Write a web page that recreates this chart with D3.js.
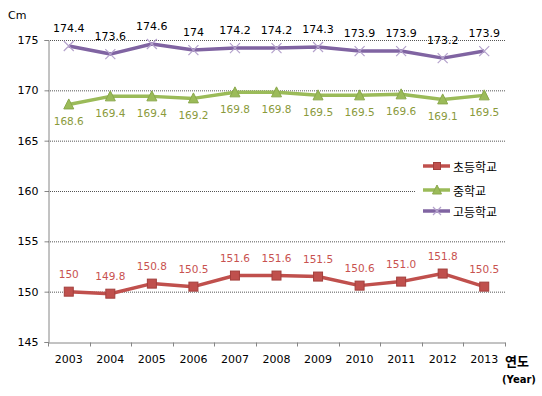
<!DOCTYPE html>
<html lang="ko">
<head>
<meta charset="utf-8">
<title>학생 평균 신장</title>
<script src="https://d3js.org/d3.v7.min.js"></script>
<style>
  body { margin: 0; background: #fff; }
  text { font-family: "DejaVu Sans", Verdana, sans-serif; }
</style>
</head>
<body>
<script>
// data
var years = ["2003","2004","2005","2006","2007","2008","2009","2010","2011","2012","2013"];
var elementary = [150, 149.8, 150.8, 150.5, 151.6, 151.6, 151.5, 150.6, 151.0, 151.8, 150.5];
var middle = [168.6, 169.4, 169.4, 169.2, 169.8, 169.8, 169.5, 169.5, 169.6, 169.1, 169.5];
var high = [174.4, 173.6, 174.6, 174, 174.2, 174.2, 174.3, 173.9, 173.9, 173.2, 173.9];
var elementaryLabels = ["150","149.8","150.8","150.5","151.6","151.6","151.5","150.6","151.0","151.8","150.5"];
var middleLabels = ["168.6","169.4","169.4","169.2","169.8","169.8","169.5","169.5","169.6","169.1","169.5"];
var highLabels = ["174.4","173.6","174.6","174","174.2","174.2","174.3","173.9","173.9","173.2","173.9"];
var yTicks = [145, 150, 155, 160, 165, 170, 175];

var width = 542, height = 396;
var svg = d3.select("body").append("svg")
    .attr("width", width)
    .attr("height", height);

var x = d3.scaleBand().domain(years).range([48, 505]);
var y = d3.scaleLinear().domain([145, 175]).range([342, 40]);
var cx = function(d, i) { return x(years[i]) + x.bandwidth() / 2; };

// gridlines
svg.append("g").selectAll("line")
    .data(yTicks.slice(1))
    .enter().append("line")
    .attr("x1", 48).attr("x2", 505)
    .attr("y1", d => y(d) + 0.5).attr("y2", d => y(d) + 0.5)
    .attr("stroke", "#555")
    .attr("stroke-dasharray", "1,1");

// y axis
var yAxis = svg.append("g")
    .attr("transform", "translate(48.5,0)")
    .call(d3.axisLeft(y).tickValues(yTicks).tickSize(4).tickPadding(6));
yAxis.selectAll("text").attr("font-size", "11px").attr("fill", "#000")
    .style("font-family", "DejaVu Sans, Verdana, sans-serif");
yAxis.selectAll("path, line").attr("stroke", "#868686");

// x axis
var xAxis = svg.append("g")
    .attr("transform", "translate(0,342.5)")
    .call(d3.axisBottom(x).tickSize(0).tickPadding(13));
xAxis.select("path").attr("stroke", "#868686");
xAxis.selectAll("text").attr("font-size", "11px").attr("fill", "#000")
    .style("font-family", "DejaVu Sans, Verdana, sans-serif");
xAxis.selectAll(".bnd").data(years.concat(["end"])).enter().append("line")
    .attr("x1", (d, i) => Math.round(48 + i * x.bandwidth()) + 0.5)
    .attr("x2", (d, i) => Math.round(48 + i * x.bandwidth()) + 0.5)
    .attr("y1", 0).attr("y2", 4)
    .attr("stroke", "#868686");

// axis titles
svg.append("text").attr("x", 8).attr("y", 19)
    .attr("font-size", "11px").text("Cm");
svg.append("text").attr("x", 505).attr("y", 366)
    .attr("font-size", "13px").attr("font-weight", "bold")
    .style("font-family", "'Noto Sans CJK KR', sans-serif").text("연도");
svg.append("text").attr("x", 502).attr("y", 383)
    .attr("font-size", "10px").attr("font-weight", "bold").text("(Year)");

var line = d3.line().x(cx).y(d => y(d));

function drawSeries(vals, labels, color, labelColor, marker, labelDy, labelSize) {
  var g = svg.append("g");
  g.append("path").datum(vals)
      .attr("d", line)
      .attr("fill", "none")
      .attr("stroke", color)
      .attr("stroke-width", 3.5)
      .attr("stroke-linejoin", "round");
  var m = g.selectAll(".m").data(vals).enter().append("g")
      .attr("transform", (d, i) => "translate(" + cx(d, i) + "," + y(d) + ")");
  marker(m);
  g.selectAll(".lbl").data(vals).enter().append("text")
      .attr("x", cx)
      .attr("y", d => y(d) + labelDy)
      .attr("text-anchor", "middle")
      .attr("dominant-baseline", "central")
      .attr("font-size", labelSize)
      .attr("fill", labelColor)
      .text((d, i) => labels[i]);
}

function square(sel, s) {
  sel.append("rect").attr("x", -s / 2).attr("y", -s / 2)
      .attr("width", s).attr("height", s)
      .attr("fill", "#C0504D").attr("stroke", "#A23F3C").attr("stroke-width", 1);
}
function triangle(sel, s) {
  sel.append("path")
      .attr("d", "M0," + (-s / 2 - 1) + "L" + (s / 2 + 0.5) + "," + (s / 2) + "L" + (-s / 2 - 0.5) + "," + (s / 2) + "Z")
      .attr("fill", "#9BBB59").attr("stroke", "#8AA84C").attr("stroke-width", 1);
}
function cross(sel, s) {
  sel.append("path")
      .attr("d", "M" + (-s / 2) + "," + (-s / 2) + "L" + (s / 2) + "," + (s / 2) + "M" + (s / 2) + "," + (-s / 2) + "L" + (-s / 2) + "," + (s / 2))
      .attr("stroke", "#B4A2CC").attr("stroke-width", 1.2).attr("fill", "none");
}

drawSeries(elementary, elementaryLabels, "#C0504D", "#C8524F", m => square(m, 9), -18, "10.5px");
drawSeries(middle, middleLabels, "#9BBB59", "#8A9A3B", m => triangle(m, 9), 17, "10.5px");
drawSeries(high, highLabels, "#8064A2", "#000", m => cross(m, 10), -18, "11px");

// legend
var legend = svg.append("g");
legend.append("rect").attr("x", 415).attr("y", 154).attr("width", 95).attr("height", 70)
    .attr("fill", "#fff");
var legendItems = [
  { name: "초등학교", color: "#C0504D", marker: m => square(m, 7), y: 166 },
  { name: "중학교", color: "#9BBB59", marker: m => triangle(m, 8), y: 190 },
  { name: "고등학교", color: "#8064A2", marker: m => cross(m, 8), y: 211 }
];
legendItems.forEach(function(it) {
  legend.append("line").attr("x1", 423).attr("x2", 450)
      .attr("y1", it.y).attr("y2", it.y)
      .attr("stroke", it.color).attr("stroke-width", 3.5);
  var m = legend.append("g").attr("transform", "translate(437," + it.y + ")");
  it.marker(m);
  legend.append("text").attr("x", 453).attr("y", it.y)
      .attr("dominant-baseline", "central")
      .attr("font-size", "12px")
      .style("font-family", "'Noto Sans CJK KR', sans-serif")
      .text(it.name);
});
</script>
</body>
</html>
